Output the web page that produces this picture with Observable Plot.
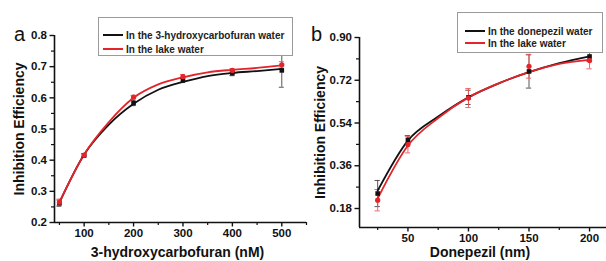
<!DOCTYPE html>
<html>
<head>
<meta charset="utf-8">
<script src="https://cdn.jsdelivr.net/npm/d3@7"></script>
<script src="https://cdn.jsdelivr.net/npm/@observablehq/plot@0.6"></script>
<style>
  html, body { margin: 0; padding: 0; background: #fff; }
  #root { position: relative; width: 606px; height: 261px; overflow: hidden; font-family: "Liberation Sans", Arial, sans-serif; }
  .pane { position: absolute; top: 0; }
  .legend { position: absolute; background: #fff; border: 1px solid #9a9a9a; box-sizing: border-box; }
  .legend .row { position: absolute; display: flex; align-items: center; font-weight: bold; font-size: 10px; color: #222; white-space: nowrap; }
  .legend .sw { width: 20px; height: 2px; margin-right: 3px; }
  .letter { position: absolute; font-size: 20px; color: #111; line-height: 1; }
</style>
</head>
<body>
<div id="root"></div>
<script>
// ---------- Panel a data ----------
const aX = [50, 100, 200, 300, 400, 500];
const aBlack = [0.262, 0.415, 0.583, 0.657, 0.679, 0.688];
const aBlackErr = [0.010, 0.006, 0.008, 0.008, 0.008, 0.054];
const aRed = [0.265, 0.416, 0.602, 0.668, 0.688, 0.706];
const aRedErr = [0.010, 0.005, 0.006, 0.007, 0.006, 0.010];
// fitted curves
const aFitX = [50, 100, 150, 200, 250, 300, 350, 400, 450, 500];
const aFitBlack = [0.264, 0.418, 0.514, 0.581, 0.626, 0.651, 0.670, 0.680, 0.686, 0.693];
const aFitRed = [0.265, 0.418, 0.522, 0.600, 0.643, 0.666, 0.682, 0.690, 0.696, 0.704];
const aXTicks = [100, 200, 300, 400, 500];
const aXMinor = [50, 150, 250, 350, 450, 550];
const aYTicks = [0.2, 0.3, 0.4, 0.5, 0.6, 0.7, 0.8];
const aYMinor = [0.25, 0.35, 0.45, 0.55, 0.65, 0.75];

// ---------- Panel b data ----------
const bX = [25, 50, 100, 150, 200];
const bBlack = [0.243, 0.469, 0.648, 0.757, 0.820];
const bBlackErr = [0.055, 0.018, 0.030, 0.070, 0.020];
const bRed = [0.215, 0.449, 0.645, 0.779, 0.803];
const bRedErr = [0.045, 0.035, 0.040, 0.050, 0.035];
const bFitX = [25, 50, 75, 100, 125, 150, 175, 200];
const bFitBlack = [0.255, 0.466, 0.567, 0.648, 0.707, 0.754, 0.792, 0.821];
const bFitRed = [0.222, 0.445, 0.561, 0.648, 0.707, 0.754, 0.789, 0.806];
const bXTicks = [50, 100, 150, 200];
const bXMinor = [25, 75, 125, 175];
const bYTicks = [0.18, 0.36, 0.54, 0.72, 0.90];
const bYMinor = [0.27, 0.45, 0.63, 0.81];

const BLACK = "#111111";
const RED = "#e3242b";
const FONT = "'Liberation Sans', Arial, sans-serif";

function rows(xs, ys, es) { return xs.map((x, i) => ({x, y: ys[i], e: es ? es[i] : 0})); }

function panel(o) {
  const blk = rows(o.x, o.black, o.blackErr);
  const red = rows(o.x, o.red, o.redErr);
  const fb = rows(o.fitX, o.fitBlack);
  const fr = rows(o.fitX, o.fitRed);
  const cw = o.capW;
  return Plot.plot({
    width: o.width, height: 261,
    marginLeft: o.ml, marginRight: o.mr, marginTop: o.mt, marginBottom: o.mb,
    style: {background: "transparent", fontFamily: FONT, overflow: "visible"},
    x: {domain: o.xDomain},
    y: {domain: o.yDomain},
    marks: [
      // minor ticks
      Plot.axisX(o.xMinor, {tickSize: 3, text: null, label: null, strokeWidth: 1.2, stroke: "#111"}),
      Plot.axisY(o.yMinor, {tickSize: 3, text: null, label: null, strokeWidth: 1.2, stroke: "#111"}),
      // major ticks
      Plot.axisX(o.xTicks, {tickSize: 4.5, tickPadding: 2, fontSize: 11.5, fontWeight: "bold", fill: "#111", strokeWidth: 1.4, stroke: "#111", label: null}),
      Plot.axisY(o.yTicks, {tickSize: 4.5, tickPadding: 3, fontSize: 11.5, fontWeight: "bold", fill: "#111", strokeWidth: 1.4, stroke: "#111", tickFormat: o.fmt, label: null}),
      // axis lines
      Plot.ruleY([o.yDomain[0]], {stroke: "#111", strokeWidth: 1.6}),
      Plot.ruleX([o.xDomain[0]], {stroke: "#111", strokeWidth: 1.6}),
      // error bars
      Plot.ruleX(blk, {x: "x", y1: d => d.y - d.e, y2: d => d.y + d.e, stroke: "#444", strokeWidth: 0.9}),
      Plot.ruleY(blk, {y: d => d.y - d.e, x1: d => d.x - cw, x2: d => d.x + cw, stroke: "#444", strokeWidth: 0.9}),
      Plot.ruleY(blk, {y: d => d.y + d.e, x1: d => d.x - cw, x2: d => d.x + cw, stroke: "#444", strokeWidth: 0.9}),
      Plot.ruleX(red, {x: "x", y1: d => d.y - d.e, y2: d => d.y + d.e, stroke: "#e55", strokeWidth: 0.9}),
      Plot.ruleY(red, {y: d => d.y - d.e, x1: d => d.x - cw, x2: d => d.x + cw, stroke: "#e55", strokeWidth: 0.9}),
      Plot.ruleY(red, {y: d => d.y + d.e, x1: d => d.x - cw, x2: d => d.x + cw, stroke: "#e55", strokeWidth: 0.9}),
      // fitted curves
      Plot.line(fb, {x: "x", y: "y", stroke: BLACK, strokeWidth: 1.8, curve: "monotone-x"}),
      Plot.line(fr, {x: "x", y: "y", stroke: RED, strokeWidth: 1.8, curve: "monotone-x"}),
      // points
      Plot.dot(blk, {x: "x", y: "y", symbol: "square", r: 2.6, fill: BLACK}),
      Plot.dot(red, {x: "x", y: "y", symbol: "circle", r: 2.6, fill: RED}),
      // axis titles
      Plot.text([o.yLabel], {frameAnchor: "left", dx: -o.yLabelOff, rotate: -90, textAnchor: "middle", lineAnchor: "middle", fontSize: 14, fontWeight: "bold", fill: "#111"}),
      Plot.text([o.xLabel], {frameAnchor: "bottom", dx: o.xLabelDx, dy: o.xLabelDy, textAnchor: "middle", lineAnchor: "middle", fontSize: 14, fontWeight: "bold", fill: "#111"})
    ]
  });
}

const root = document.getElementById("root");

const pa = panel({
  width: 310, ml: 54, mr: 4, mt: 35, mb: 39,
  xDomain: [40, 550], yDomain: [0.2, 0.8],
  x: aX, black: aBlack, blackErr: aBlackErr, red: aRed, redErr: aRedErr,
  fitX: aFitX, fitBlack: aFitBlack, fitRed: aFitRed,
  xTicks: aXTicks, xMinor: aXMinor, yTicks: aYTicks, yMinor: aYMinor,
  fmt: d3.format(".1f"), capW: 5,
  yLabel: "Inhibition Efficiency", yLabelOff: 35,
  xLabel: "3-hydroxycarbofuran (nM)", xLabelDx: -3, xLabelDy: 30
});
pa.classList.add("pane"); pa.style.left = "0px";
root.appendChild(pa);

const pb = panel({
  width: 303, ml: 56, mr: 0, mt: 37, mb: 34,
  xDomain: [10, 214], yDomain: [0.10, 0.90],
  x: bX, black: bBlack, blackErr: bBlackErr, red: bRed, redErr: bRedErr,
  fitX: bFitX, fitBlack: bFitBlack, fitRed: bFitRed,
  xTicks: bXTicks, xMinor: bXMinor, yTicks: bYTicks, yMinor: bYMinor,
  fmt: d3.format(".2f"), capW: 2.2,
  yLabel: "Inhibition Efficiency", yLabelOff: 39,
  xLabel: "Donepezil (nm)", xLabelDx: -3, xLabelDy: 25
});
pb.classList.add("pane"); pb.style.left = "303px";
root.appendChild(pb);

// legends
function legend(left, top, w, h, items) {
  const box = document.createElement("div");
  box.className = "legend";
  Object.assign(box.style, {left: left + "px", top: top + "px", width: w + "px", height: h + "px"});
  items.forEach(it => {
    const r = document.createElement("div");
    r.className = "row";
    r.style.left = it.dx + "px";
    r.style.top = (it.dy - 7) + "px";
    r.style.height = "14px";
    const sw = document.createElement("span");
    sw.className = "sw"; sw.style.background = it.color;
    const t = document.createElement("span");
    t.textContent = it.label;
    r.appendChild(sw); r.appendChild(t);
    box.appendChild(r);
  });
  root.appendChild(box);
}
const legendA = ["In the 3-hydroxycarbofuran water", "In the lake water"];
const legendB = ["In the donepezil water", "In the lake water"];
legend(98, 17, 195, 39, [
  {label: legendA[0], color: BLACK, dx: 4, dy: 17},
  {label: legendA[1], color: RED, dx: 4, dy: 31}
]);
legend(457, 12, 146, 41, [
  {label: legendB[0], color: BLACK, dx: 7, dy: 18},
  {label: legendB[1], color: RED, dx: 7, dy: 30}
]);

// panel letters
function letter(txt, left, top) {
  const d = document.createElement("div");
  d.className = "letter"; d.textContent = txt;
  d.style.left = left + "px"; d.style.top = top + "px";
  root.appendChild(d);
}
letter("a", 14, 24);
letter("b", 311, 24);
</script>
</body>
</html>
